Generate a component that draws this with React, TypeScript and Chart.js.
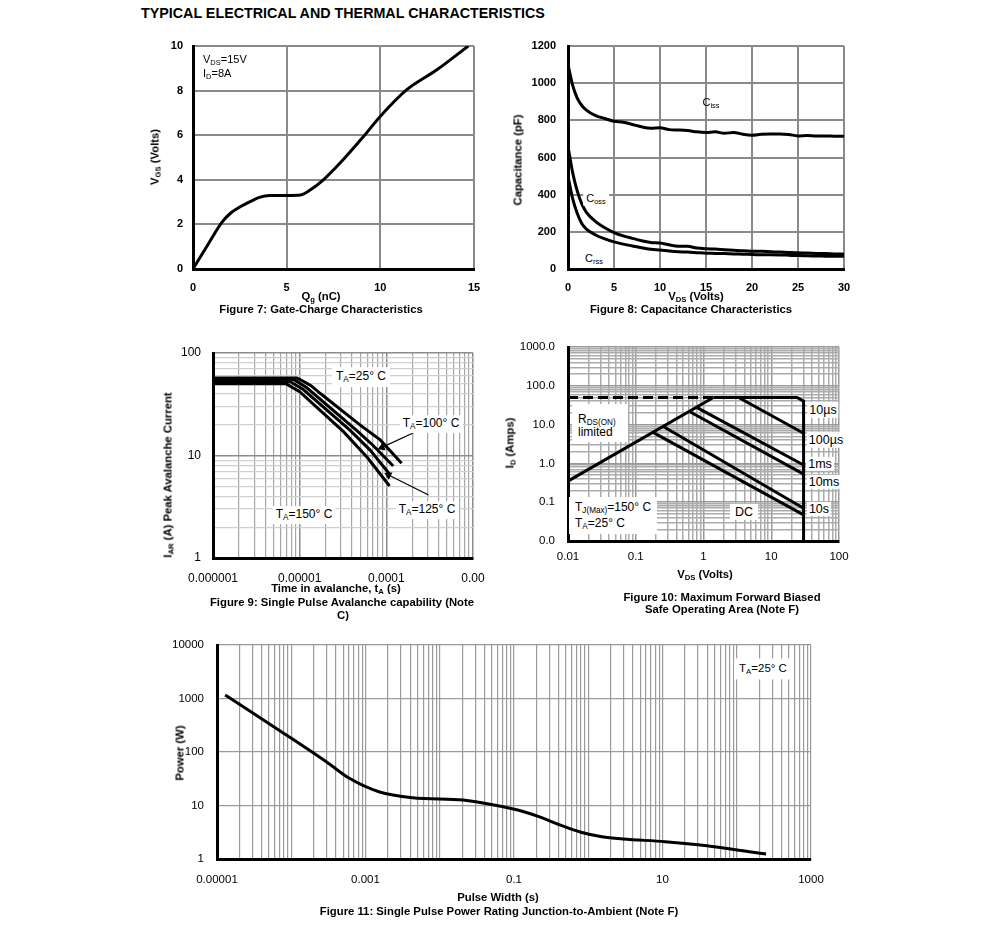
import React, { useEffect, useRef } from "react";
import { Chart, registerables } from "chart.js";
Chart.register(...registerables);

const FONT = "'Liberation Sans', Arial, Helvetica, sans-serif";
Chart.defaults.font.family = FONT;
Chart.defaults.color = "#000";

// ---------------- Figure 7: Gate charge ----------------
const fig7Qg = [0, 0.8, 1.55, 2.0, 2.5, 3.0, 3.5, 4.1, 5.0, 5.75, 6.25, 6.96, 7.85, 9.1, 9.98, 11.4, 13.0, 14.7];
const fig7Vgs = [0, 1.1, 2.1, 2.5, 2.78, 3.0, 3.2, 3.3, 3.3, 3.32, 3.54, 4.0, 4.75, 5.94, 6.83, 8.03, 8.92, 10];
const fig7XTicks = [0, 5, 10, 15];
const fig7YTicks = [0, 2, 4, 6, 8, 10];

// ---------------- Figure 8: Capacitance ----------------
const fig8Vds = [0, 0.5, 1, 1.5, 2, 3, 4, 5, 6, 7, 8, 9, 10, 11, 12, 13, 14, 15, 16, 17, 18, 19, 20, 21, 22, 23, 24, 25, 26, 27, 28, 29, 30];
const fig8Ciss = [1100, 990, 920, 880, 855, 825, 810, 795, 790, 778, 765, 757, 760, 750, 748, 745, 738, 735, 738, 730, 735, 725, 720, 725, 727, 727, 724, 716, 718, 716, 716, 715, 715];
const fig8Coss = [660, 520, 420, 350, 305, 255, 222, 196, 178, 165, 152, 143, 140, 130, 123, 122, 113, 109, 107, 104, 101, 98, 96, 95, 93, 91, 89, 87, 86, 84, 83, 81, 80];
const fig8Crss = [500, 380, 300, 245, 215, 183, 162, 146, 134, 124, 114, 106, 102, 97, 93, 91, 88, 85, 84, 83, 81, 80, 78, 77, 77, 76, 74, 72, 71, 70, 69, 68, 68];
const fig8XTicks = [0, 5, 10, 15, 20, 25, 30];
const fig8YTicks = [0, 200, 400, 600, 800, 1000, 1200];

// ---------------- Figure 9: Avalanche ----------------
const fig9T25 = [1e-6, 9.3e-6, 1.1e-5, 1.35e-5, 1.75e-5, 5e-5, 8.5e-5, 1.5e-4];
const fig9I25 = [57, 57, 53, 48, 40, 19.8, 14.2, 8.4];
const fig9T100 = [1e-6, 8.6e-6, 1.2e-5, 4.5e-5, 7e-5, 1.2e-4];
const fig9I100 = [55, 55, 46, 17.7, 12.6, 7.9];
const fig9T125 = [1e-6, 7.8e-6, 1.1e-5, 3.8e-5, 6.5e-5, 1.11e-4];
const fig9I125 = [52.5, 52.5, 44, 17.7, 11.3, 6.45];
const fig9T150 = [1e-6, 7e-6, 1e-5, 3.2e-5, 6e-5, 1.09e-4];
const fig9I150 = [50, 50, 42, 17.1, 9.6, 5.04];
const fig9Arrow100T = [2.06e-4, 8.9e-5];
const fig9Arrow100I = [16.7, 12.0];
const fig9Arrow125T = [3.07e-4, 1.06e-4];
const fig9Arrow125I = [4.12, 6.45];
const fig9XTickVals = [1e-6, 1e-5, 1e-4, 1e-3];
const fig9XTickLabels = ["0.000001", "0.00001", "0.0001", "0.00"];
const fig9YTickVals = [1, 10, 100];
const fig9YTickLabels = ["1", "10", "100"];

// ---------------- Figure 10: SOA ----------------
const fig10RdsV = [0.01, 1.4];
const fig10RdsI = [0.35, 50];
const fig10LimV = [0.01, 1.4];
const fig10LimI = [50, 50];
const fig10EdgeV = [1.4, 24, 30, 30];
const fig10EdgeI = [50, 50, 40, 0.01];
const fig10L10usV = [3.3, 30];
const fig10L10usI = [50, 5.97];
const fig10L100usV = [0.79, 30];
const fig10L100usI = [27.9, 0.91];
const fig10L1msV = [0.63, 30];
const fig10L1msI = [21.5, 0.53];
const fig10L10msV = [0.255, 30];
const fig10L10msI = [8.9, 0.07];
const fig10L10sV = [0.18, 30];
const fig10L10sI = [6.3, 0.047];
const fig10XTickVals = [0.01, 0.1, 1, 10, 100];
const fig10XTickLabels = ["0.01", "0.1", "1", "10", "100"];
const fig10YTickVals = [0.01, 0.1, 1, 10, 100, 1000];
const fig10YTickLabels = ["0.0", "0.1", "1.0", "10.0", "100.0", "1000.0"];

// ---------------- Figure 11: Single pulse power ----------------
const fig11T = [1.29e-5, 8.57e-5, 3.16e-4, 6.07e-4, 1.51e-3, 4.3e-3, 0.0206, 0.0305, 0.112, 0.216, 0.414, 0.796, 1.53, 2.94, 10.8, 39.8, 147, 248];
const fig11P = [1160, 208, 61.6, 32.2, 18.1, 14.0, 12.7, 11.8, 8.24, 6.18, 4.33, 3.16, 2.61, 2.37, 2.11, 1.77, 1.37, 1.24];
const fig11XTickVals = [1e-5, 1e-3, 1e-1, 10, 1000];
const fig11XTickLabels = ["0.00001", "0.001", "0.1", "10", "1000"];
const fig11YTickVals = [1, 10, 100, 1000, 10000];
const fig11YTickLabels = ["1", "10", "100", "1000", "10000"];

// ---------------- helpers ----------------
const PAD_L = 70, PAD_T = 26, PAD_R = 40, PAD_B = 35;

type Rect = { l: number; t: number; r: number; b: number };
const R7: Rect = { l: 193, t: 46, r: 474, b: 269 };
const R8: Rect = { l: 568, t: 46, r: 844, b: 269 };
const R9: Rect = { l: 213, t: 353, r: 473, b: 558 };
const R10: Rect = { l: 568, t: 347, r: 839, b: 541 };
const R11: Rect = { l: 217, t: 645, r: 811, b: 859 };

const pts = (xs: number[], ys: number[]) => xs.map((x, i) => ({ x, y: ys[i] }));

function logGrid(minExp: number, maxExp: number): number[] {
  const out: number[] = [];
  for (let e = minExp; e < maxExp; e++) for (let m = 1; m < 10; m++) out.push(m * Math.pow(10, e));
  out.push(Math.pow(10, maxExp));
  return out;
}
const isDecade = (v: number) => Math.abs(Math.log10(v) - Math.round(Math.log10(v))) < 1e-6;

type AxisSpec = {
  type: "linear" | "logarithmic";
  min: number;
  max: number;
  grid: number[];
  labelVals: number[];
  labels: string[];
  color: (v: number) => string;
  width: (v: number) => number;
  border: number;
  font: any;
  pad: number;
};

function axis(s: AxisSpec, isX: boolean) {
  return {
    type: s.type,
    min: s.min,
    max: s.max,
    position: isX ? "bottom" : "left",
    afterBuildTicks: (sc: any) => {
      sc.ticks = s.grid.map((v) => ({ value: v }));
    },
    afterFit: (sc: any) => {
      if (isX) sc.height = PAD_B;
      else sc.width = PAD_L;
    },
    ticks: {
      autoSkip: false,
      maxRotation: 0,
      minRotation: 0,
      padding: s.pad,
      color: "#000",
      font: s.font,
      callback: (v: number) => {
        const i = s.labelVals.findIndex((l) => Math.abs(l - v) <= Math.abs(l) * 1e-6);
        return i >= 0 ? s.labels[i] : "";
      },
    },
    grid: {
      drawTicks: false,
      color: (ctx: any) => s.color(ctx.tick ? ctx.tick.value : 0),
      lineWidth: (ctx: any) => s.width(ctx.tick ? ctx.tick.value : 0),
    },
    border: { display: true, color: "#000", width: s.border },
  };
}

function line(data: { x: number; y: number }[], extra: any = {}) {
  return {
    data,
    showLine: true,
    borderColor: "#000",
    backgroundColor: "#000",
    borderWidth: 3,
    pointRadius: 0,
    fill: false,
    tension: 0,
    ...extra,
  };
}

function baseConfig(datasets: any[], x: any, y: any) {
  return {
    type: "scatter",
    data: { datasets },
    options: {
      animation: false,
      responsive: false,
      events: [],
      layout: { padding: { left: 0, top: PAD_T, right: PAD_R, bottom: 0 } },
      plugins: { legend: { display: false }, tooltip: { enabled: false }, title: { display: false } },
      scales: { x, y },
    },
  };
}

function ChartCanvas({ rect, make }: { rect: Rect; make: () => any }) {
  const ref = useRef<HTMLCanvasElement>(null);
  const w = rect.r - rect.l + PAD_L + PAD_R;
  const h = rect.b - rect.t + PAD_T + PAD_B;
  useEffect(() => {
    const chart = new Chart(ref.current as HTMLCanvasElement, make());
    return () => chart.destroy();
  }, []);
  return (
    <canvas
      ref={ref}
      width={w}
      height={h}
      style={{ position: "absolute", left: rect.l - PAD_L, top: rect.t - PAD_T, width: w, height: h }}
    />
  );
}

const boldTick = { size: 11, weight: "bold" };

function make7() {
  return baseConfig(
    [line(pts(fig7Qg, fig7Vgs), { cubicInterpolationMode: "monotone" })],
    axis({ type: "linear", min: 0, max: 15, grid: fig7XTicks, labelVals: fig7XTicks, labels: fig7XTicks.map(String),
      color: () => "#8a8a8a", width: () => 2, border: 3, font: boldTick, pad: 12 }, true),
    axis({ type: "linear", min: 0, max: 10, grid: fig7YTicks, labelVals: fig7YTicks, labels: fig7YTicks.map(String),
      color: () => "#8a8a8a", width: () => 2, border: 3, font: boldTick, pad: 10 }, false)
  );
}

function make8() {
  return baseConfig(
    [
      line(pts(fig8Vds, fig8Ciss), { cubicInterpolationMode: "monotone" }),
      line(pts(fig8Vds, fig8Coss), { cubicInterpolationMode: "monotone" }),
      line(pts(fig8Vds, fig8Crss), { cubicInterpolationMode: "monotone" }),
    ],
    axis({ type: "linear", min: 0, max: 30, grid: fig8XTicks, labelVals: fig8XTicks, labels: fig8XTicks.map(String),
      color: () => "#8a8a8a", width: () => 2, border: 3, font: boldTick, pad: 12 }, true),
    axis({ type: "linear", min: 0, max: 1200, grid: fig8YTicks, labelVals: fig8YTicks, labels: fig8YTicks.map(String),
      color: () => "#8a8a8a", width: () => 2, border: 3, font: boldTick, pad: 12 }, false)
  );
}

function make9() {
  return baseConfig(
    [
      line(pts(fig9T25, fig9I25)),
      line(pts(fig9T100, fig9I100)),
      line(pts(fig9T125, fig9I125)),
      line(pts(fig9T150, fig9I150)),
      line(pts(fig9Arrow100T, fig9Arrow100I), { borderWidth: 1.2, pointRadius: [0, 3.5], pointStyle: "triangle", pointRotation: 246 }),
      line(pts(fig9Arrow125T, fig9Arrow125I), { borderWidth: 1.2, pointRadius: [0, 3.5], pointStyle: "triangle", pointRotation: 297 }),
    ],
    axis({ type: "logarithmic", min: 1e-6, max: 1e-3, grid: logGrid(-6, -3), labelVals: fig9XTickVals, labels: fig9XTickLabels,
      color: (v) => (isDecade(v) ? "#8c8c8c" : "#a6a6a6"), width: (v) => (isDecade(v) ? 1.5 : 1.2), border: 3, font: { size: 12 }, pad: 13 }, true),
    axis({ type: "logarithmic", min: 1, max: 100, grid: logGrid(0, 2), labelVals: fig9YTickVals, labels: fig9YTickLabels,
      color: (v) => (isDecade(v) ? "#8c8c8c" : "#cfcfcf"), width: (v) => (isDecade(v) ? 1.5 : 1.2), border: 3, font: { size: 12 }, pad: 12 }, false)
  );
}

function make10() {
  return baseConfig(
    [
      line(pts(fig10LimV, fig10LimI), { borderDash: [10, 5] }),
      line(pts(fig10RdsV, fig10RdsI)),
      line(pts(fig10EdgeV, fig10EdgeI)),
      line(pts(fig10L10usV, fig10L10usI)),
      line(pts(fig10L100usV, fig10L100usI)),
      line(pts(fig10L1msV, fig10L1msI)),
      line(pts(fig10L10msV, fig10L10msI)),
      line(pts(fig10L10sV, fig10L10sI)),
    ],
    axis({ type: "logarithmic", min: 0.01, max: 100, grid: logGrid(-2, 2), labelVals: fig10XTickVals, labels: fig10XTickLabels,
      color: (v) => (isDecade(v) ? "#999999" : "#ababab"), width: () => 1.5, border: 3, font: { size: 11.5 }, pad: 9 }, true),
    axis({ type: "logarithmic", min: 0.01, max: 1000, grid: logGrid(-2, 3), labelVals: fig10YTickVals, labels: fig10YTickLabels,
      color: (v) => (isDecade(v) ? "#999999" : "#ababab"), width: () => 1.5, border: 3, font: { size: 11.5 }, pad: 13 }, false)
  );
}

function make11() {
  return baseConfig(
    [line(pts(fig11T, fig11P), { cubicInterpolationMode: "monotone" })],
    axis({ type: "logarithmic", min: 1e-5, max: 1000, grid: logGrid(-5, 3), labelVals: fig11XTickVals, labels: fig11XTickLabels,
      color: () => "#9a9a9a", width: () => 1.2, border: 3, font: { size: 11.5 }, pad: 14 }, true),
    axis({ type: "logarithmic", min: 1, max: 10000, grid: [1, 10, 100, 1000, 10000], labelVals: fig11YTickVals, labels: fig11YTickLabels,
      color: () => "#9a9a9a", width: () => 1.2, border: 3, font: { size: 11.5 }, pad: 13 }, false)
  );
}

// ---------------- text overlays ----------------
const Sub = ({ children }: { children: any }) => (
  <span style={{ fontSize: "0.68em", position: "relative", top: "0.3em" }}>{children}</span>
);

function T(props: {
  x: number; y: number; size?: number; bold?: boolean; rot?: boolean; left?: boolean; bg?: string; pad?: string; children: any;
}) {
  const { x, y, size = 11, bold = false, rot = false, left = false, bg, pad, children } = props;
  const tr = (left ? "translate(0,-50%)" : "translate(-50%,-50%)") + (rot ? " rotate(-90deg)" : "");
  return (
    <div
      style={{
        position: "absolute", left: x, top: y, transform: tr, fontFamily: FONT, fontSize: size,
        fontWeight: bold ? "bold" : "normal", whiteSpace: "nowrap", lineHeight: 1.15, background: bg,
        padding: pad, color: "#000",
      }}
    >
      {children}
    </div>
  );
}

const Box = ({ l, t, w, h }: { l: number; t: number; w: number; h: number }) => (
  <div style={{ position: "absolute", left: l, top: t, width: w, height: h, background: "#fff" }} />
);

const CAP = 11.3;

export default function App() {
  return (
    <div style={{ position: "absolute", left: 0, top: 0, width: 991, height: 952, background: "#fff", overflow: "hidden" }}>
      <T x={141} y={13} size={14.3} bold left>TYPICAL ELECTRICAL AND THERMAL CHARACTERISTICS</T>

      {/* Figure 7 */}
      <ChartCanvas rect={R7} make={make7} />
      <T x={203} y={59} left>V<Sub>DS</Sub>=15V</T>
      <T x={203} y={73} left>I<Sub>D</Sub>=8A</T>
      <T x={155} y={157} size={CAP} bold rot>V<Sub>GS</Sub> (Volts)</T>
      <T x={321} y={296} size={CAP} bold>Q<Sub>g</Sub> (nC)</T>
      <T x={321} y={309} size={CAP} bold>Figure 7: Gate-Charge Characteristics</T>

      {/* Figure 8 */}
      <ChartCanvas rect={R8} make={make8} />
      <T x={711} y={102}>C<Sub>iss</Sub></T>
      <T x={596} y={198} bg="#fff" pad="1px 3px">C<Sub>oss</Sub></T>
      <T x={594} y={258} bg="#fff" pad="1px 3px">C<Sub>rss</Sub></T>
      <T x={518} y={160} size={CAP} bold rot>Capacitance (pF)</T>
      <T x={696} y={296} size={CAP} bold>V<Sub>DS</Sub> (Volts)</T>
      <T x={691} y={309} size={CAP} bold>Figure 8: Capacitance Characteristics</T>

      {/* Figure 9 */}
      <ChartCanvas rect={R9} make={make9} />
      <T x={361} y={377} size={12} bg="#fff" pad="3px 4px">T<Sub>A</Sub>=25° C</T>
      <T x={431} y={424} size={12} bg="#fff" pad="2px 3px">T<Sub>A</Sub>=100° C</T>
      <T x={427} y={510} size={12} bg="#fff" pad="2px 3px">T<Sub>A</Sub>=125° C</T>
      <T x={304} y={515} size={12} bg="#fff" pad="2px 3px">T<Sub>A</Sub>=150° C</T>
      <T x={168} y={475} size={CAP} bold rot>I<Sub>AR</Sub> (A) Peak Avalanche Current</T>
      <T x={336} y={588} size={CAP} bold>Time in avalanche, t<Sub>A</Sub> (s)</T>
      <T x={342} y={602} size={CAP} bold>Figure 9: Single Pulse Avalanche capability (Note</T>
      <T x={343} y={615} size={CAP} bold>C)</T>

      {/* Figure 10 */}
      <ChartCanvas rect={R10} make={make10} />
      <Box l={572} t={404} w={56} h={38} />
      <T x={578} y={420} size={12} left>R<Sub>DS(ON)</Sub></T>
      <T x={578} y={433} size={12} left>limited</T>
      <Box l={569} t={497} w={88} h={37} />
      <T x={575} y={508} size={12} left>T<Sub>J(Max)</Sub>=150° C</T>
      <T x={575} y={524} size={12} left>T<Sub>A</Sub>=25° C</T>
      <T x={744} y={512} size={12.5} bg="#fff" pad="1px 5px">DC</T>
      <T x={823} y={410} size={12.5} bg="#fff" pad="1px 2px">10µs</T>
      <T x={826} y={440} size={12.5} bg="#fff" pad="1px 2px">100µs</T>
      <T x={820} y={464} size={12.5} bg="#fff" pad="0px 2px">1ms</T>
      <T x={824} y={482} size={12.5} bg="#fff" pad="0px 2px">10ms</T>
      <T x={819} y={509} size={12.5} bg="#fff" pad="0px 2px">10s</T>
      <T x={510} y={443} size={CAP} bold rot>I<Sub>D</Sub> (Amps)</T>
      <T x={705} y={574} size={CAP} bold>V<Sub>DS</Sub> (Volts)</T>
      <T x={722} y={597} size={CAP} bold>Figure 10: Maximum Forward Biased</T>
      <T x={722} y={609} size={CAP} bold>Safe Operating Area (Note F)</T>

      {/* Figure 11 */}
      <ChartCanvas rect={R11} make={make11} />
      <T x={763} y={669} size={11.5} bg="#fff" pad="4px 5px">T<Sub>A</Sub>=25° C</T>
      <T x={180} y={753} size={CAP} bold rot>Power (W)</T>
      <T x={498} y={897} size={CAP} bold>Pulse Width (s)</T>
      <T x={499} y={911} size={CAP} bold>Figure 11: Single Pulse Power Rating Junction-to-Ambient (Note F)</T>
    </div>
  );
}
